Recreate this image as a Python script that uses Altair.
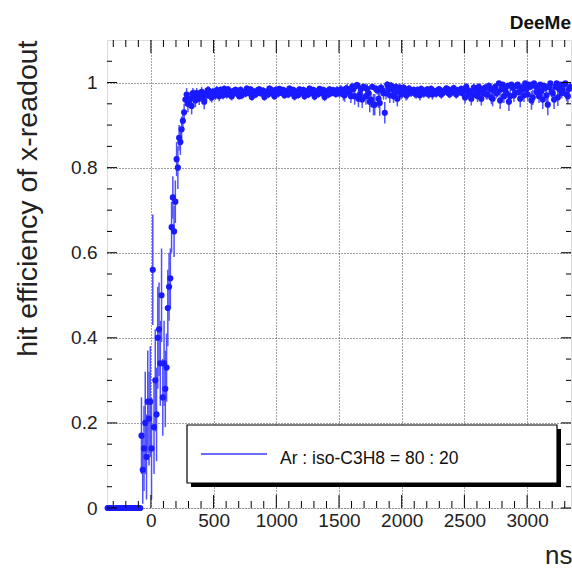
import altair as alt
import pandas as pd

# ---------------- data ----------------
# region before the signal: efficiency 0, bins of 10 ns
zero_ns = [-345, -335, -325, -315, -305, -295, -285, -275, -265, -255, -245, -235,
           -225, -215, -205, -195, -185, -175, -165, -155, -145, -135, -125, -115,
           -105, -95, -85]
zero_eff = [0.0] * len(zero_ns)
zero_err = [0.0] * len(zero_ns)

# rising edge, bins of 10 ns
rise_ns = [-75, -65, -55, -45, -35, -25, -15, -5, 5, 15, 25, 35, 45, 55, 65, 75, 85, 95,
           105, 115, 125, 135, 145, 155, 165, 175, 185, 195, 205, 215, 225, 235, 245,
           255, 265, 275]
rise_eff = [0.17, 0.09, 0.14, 0.20, 0.12, 0.25, 0.21, 0.25, 0.14, 0.56, 0.19, 0.30,
            0.22, 0.40, 0.42, 0.34, 0.50, 0.26, 0.34, 0.28, 0.33, 0.47, 0.52, 0.54,
            0.66, 0.73, 0.65, 0.72, 0.82, 0.80, 0.87, 0.86, 0.89, 0.91, 0.93, 0.96]
rise_err = [0.09, 0.08, 0.10, 0.12, 0.10, 0.12, 0.11, 0.13, 0.12, 0.13, 0.11, 0.12,
            0.11, 0.12, 0.11, 0.10, 0.11, 0.09, 0.10, 0.09, 0.08, 0.09, 0.08, 0.07,
            0.06, 0.05, 0.06, 0.05, 0.04, 0.05, 0.03, 0.03, 0.03, 0.02, 0.02, 0.015]

# plateau, bins of 10 ns: set A at 285, 305, ...; set B at 295, 315, ...
plateau_a_start = 285
plateau_b_start = 295
plateau_step = 20
plateau_a_eff = [
    0.972, 0.958, 0.945, 0.968, 0.975, 0.962, 0.978, 0.955, 0.970, 0.980,
    0.965, 0.975, 0.982, 0.968, 0.976, 0.985, 0.972, 0.978, 0.968, 0.975,
    0.980, 0.968, 0.970, 0.978, 0.986, 0.975, 0.966, 0.979, 0.976, 0.984,
    0.976, 0.966, 0.978, 0.986, 0.975, 0.968, 0.979, 0.985, 0.976, 0.970,
    0.978, 0.986, 0.975, 0.967, 0.977, 0.984, 0.976, 0.968, 0.979, 0.986,
    0.976, 0.967, 0.978, 0.985, 0.975, 0.966, 0.977, 0.984, 0.976, 0.978,
    0.982, 0.975, 0.978, 0.970, 0.985, 0.976, 0.990, 0.968, 0.994, 0.972,
    0.960, 0.988, 0.985, 0.955, 0.990, 0.948, 0.982, 0.952, 0.982, 0.929,
    0.995, 0.970, 0.985, 0.975, 0.962, 0.988, 0.976, 0.980, 0.972, 0.984,
    0.978, 0.975, 0.983, 0.970, 0.980, 0.976, 0.984, 0.978, 0.972, 0.980,
    0.977, 0.983, 0.975, 0.979, 0.985, 0.973, 0.980, 0.976, 0.982, 0.978,
    0.975, 0.965, 0.982, 0.978, 0.970, 0.985, 0.968, 0.980, 0.975, 0.988,
    0.972, 0.985, 0.962, 0.990, 0.978, 0.958, 0.995, 0.982, 0.992, 0.968,
    0.988, 0.975, 0.995, 0.962, 0.985, 0.998, 0.972, 0.990, 0.965, 0.992,
    0.985, 0.995, 0.960, 0.988, 0.948, 0.998, 0.975, 0.990, 0.965, 0.995,
    0.982, 0.998, 0.968, 0.990,
]
plateau_a_err = [
    0.015, 0.018, 0.020, 0.015, 0.012, 0.015, 0.012, 0.018, 0.012, 0.010,
    0.012, 0.010, 0.010, 0.012, 0.010, 0.008, 0.010, 0.008, 0.010, 0.008,
    0.008, 0.008, 0.009, 0.008, 0.007, 0.008, 0.009, 0.008, 0.008, 0.007,
    0.008, 0.009, 0.008, 0.007, 0.008, 0.009, 0.008, 0.007, 0.008, 0.008,
    0.008, 0.007, 0.008, 0.009, 0.008, 0.007, 0.008, 0.009, 0.008, 0.007,
    0.008, 0.009, 0.008, 0.007, 0.008, 0.010, 0.008, 0.007, 0.008, 0.008,
    0.010, 0.010, 0.012, 0.015, 0.012, 0.012, 0.010, 0.020, 0.008, 0.015,
    0.020, 0.008, 0.012, 0.025, 0.006, 0.025, 0.010, 0.030, 0.012, 0.025,
    0.008, 0.018, 0.012, 0.012, 0.018, 0.010, 0.010, 0.010, 0.012, 0.010,
    0.008, 0.010, 0.008, 0.012, 0.008, 0.010, 0.008, 0.009, 0.012, 0.008,
    0.009, 0.008, 0.010, 0.008, 0.008, 0.010, 0.008, 0.009, 0.008, 0.009,
    0.010, 0.014, 0.008, 0.009, 0.012, 0.008, 0.014, 0.009, 0.010, 0.008,
    0.012, 0.010, 0.018, 0.008, 0.012, 0.020, 0.006, 0.010, 0.008, 0.018,
    0.010, 0.012, 0.006, 0.020, 0.010, 0.005, 0.015, 0.008, 0.018, 0.008,
    0.010, 0.006, 0.022, 0.010, 0.025, 0.005, 0.014, 0.008, 0.020, 0.006,
    0.012, 0.005, 0.018, 0.010,
]
plateau_b_eff = [
    0.950, 0.962, 0.975, 0.958, 0.968, 0.972, 0.965, 0.975, 0.982, 0.968,
    0.978, 0.970, 0.976, 0.983, 0.970, 0.978, 0.984, 0.970, 0.980, 0.983,
    0.972, 0.983, 0.977, 0.974, 0.979, 0.984, 0.976, 0.972, 0.983, 0.975,
    0.981, 0.977, 0.972, 0.984, 0.978, 0.983, 0.974, 0.977, 0.983, 0.979,
    0.972, 0.977, 0.983, 0.979, 0.971, 0.976, 0.983, 0.978, 0.972, 0.977,
    0.983, 0.979, 0.973, 0.977, 0.983, 0.979, 0.972, 0.975, 0.982, 0.973,
    0.977, 0.984, 0.972, 0.986, 0.980, 0.968, 0.985, 0.992, 0.962, 0.985,
    0.990, 0.968, 0.975, 0.960, 0.948, 0.985, 0.962, 0.988, 0.975, 0.975,
    0.985, 0.993, 0.968, 0.990, 0.982, 0.972, 0.988, 0.970, 0.985, 0.976,
    0.983, 0.972, 0.978, 0.985, 0.974, 0.982, 0.972, 0.985, 0.979, 0.974,
    0.984, 0.972, 0.980, 0.986, 0.974, 0.982, 0.987, 0.972, 0.979, 0.985,
    0.982, 0.990, 0.972, 0.962, 0.988, 0.976, 0.990, 0.962, 0.985, 0.972,
    0.992, 0.965, 0.982, 0.975, 0.998, 0.985, 0.968, 0.975, 0.955, 0.995,
    0.970, 0.992, 0.978, 0.988, 0.970, 0.985, 0.995, 0.958, 0.998, 0.978,
    0.968, 0.980, 0.992, 0.970, 0.990, 0.978, 0.960, 0.998, 0.985, 0.975,
    0.995, 0.972, 0.985,
]
plateau_b_err = [
    0.020, 0.016, 0.012, 0.016, 0.014, 0.012, 0.014, 0.012, 0.010, 0.012,
    0.010, 0.011, 0.009, 0.008, 0.010, 0.009, 0.008, 0.010, 0.008, 0.008,
    0.009, 0.008, 0.008, 0.009, 0.008, 0.007, 0.008, 0.009, 0.007, 0.008,
    0.008, 0.008, 0.009, 0.007, 0.008, 0.008, 0.009, 0.008, 0.007, 0.008,
    0.009, 0.008, 0.007, 0.008, 0.009, 0.008, 0.007, 0.008, 0.009, 0.008,
    0.007, 0.008, 0.009, 0.008, 0.007, 0.008, 0.009, 0.008, 0.008, 0.009,
    0.010, 0.010, 0.014, 0.008, 0.012, 0.016, 0.010, 0.008, 0.020, 0.010,
    0.008, 0.020, 0.014, 0.018, 0.025, 0.010, 0.022, 0.008, 0.015, 0.015,
    0.010, 0.008, 0.016, 0.008, 0.010, 0.012, 0.009, 0.012, 0.009, 0.010,
    0.008, 0.010, 0.009, 0.008, 0.010, 0.008, 0.010, 0.008, 0.009, 0.010,
    0.008, 0.010, 0.009, 0.008, 0.010, 0.008, 0.008, 0.010, 0.009, 0.008,
    0.009, 0.008, 0.012, 0.016, 0.009, 0.011, 0.008, 0.016, 0.009, 0.012,
    0.008, 0.016, 0.010, 0.012, 0.005, 0.010, 0.016, 0.012, 0.022, 0.006,
    0.016, 0.008, 0.012, 0.009, 0.016, 0.010, 0.006, 0.022, 0.005, 0.012,
    0.016, 0.010, 0.008, 0.016, 0.008, 0.012, 0.022, 0.005, 0.010, 0.012,
    0.006, 0.016, 0.010,
]
plateau_a_ns = [plateau_a_start + plateau_step * i for i in range(len(plateau_a_eff))]
plateau_b_ns = [plateau_b_start + plateau_step * i for i in range(len(plateau_b_eff))]

# axis ticks
x_major = [0, 500, 1000, 1500, 2000, 2500, 3000]
x_minor = [-300, -200, -100, 100, 200, 300, 400, 600, 700, 800, 900, 1100, 1200, 1300,
           1400, 1600, 1700, 1800, 1900, 2100, 2200, 2300, 2400, 2600, 2700, 2800, 2900,
           3100, 3200, 3300]
y_major = [0, 0.2, 0.4, 0.6, 0.8, 1.0]
y_minor = [0.05, 0.1, 0.15, 0.25, 0.3, 0.35, 0.45, 0.5, 0.55, 0.65, 0.7, 0.75, 0.85,
           0.9, 0.95, 1.05]

legend_label = "Ar : iso-C3H8 = 80 : 20"

# ---------------- chart ----------------
W, H = 464, 468
FONT = "Liberation Sans"
PT = "#1a1aff"
EB = "#5050ff"

df = pd.DataFrame({
    "ns": zero_ns + rise_ns + plateau_a_ns + plateau_b_ns,
    "eff": zero_eff + rise_eff + plateau_a_eff + plateau_b_eff,
    "err": zero_err + rise_err + plateau_a_err + plateau_b_err,
})
df["lo"] = df["eff"] - df["err"]
df["hi"] = df["eff"] + df["err"]
df_err = df[df["err"] > 0]

xs = alt.Scale(domain=[-350, 3350], nice=False, zero=False)
ys = alt.Scale(domain=[0, 1.1], nice=False, zero=False)

x_axis = alt.Axis(values=x_major, format="d", grid=True, gridDash=[1, 2],
                  gridColor="#444", gridWidth=1, tickSize=0, domain=False,
                  labelFont=FONT, labelFontSize=19, labelColor="#222", labelPadding=3,
                  title="ns", titleFont=FONT, titleFontSize=26,
                  titleFontWeight="normal", titleColor="#222", titleX=W + 1, titleY=47,
                  titleAlign="right", titleBaseline="middle")
y_axis = alt.Axis(values=y_major, format="~g", grid=True, gridDash=[1, 2],
                  gridColor="#444", gridWidth=1, tickSize=0, domain=False,
                  labelFont=FONT, labelFontSize=19, labelColor="#222",
                  labelPadding=10, title="hit efficiency of x-readout",
                  titleFont=FONT, titleFontSize=28.5, titleFontWeight="normal",
                  titleColor="#222", titleAngle=270, titleX=-80, titleY=0,
                  titleAlign="right", titleBaseline="middle")


def X(field):
    return alt.X(field, scale=xs, axis=x_axis)


def Y(field):
    return alt.Y(field, scale=ys, axis=y_axis)


errbars = alt.Chart(df_err).mark_rule(color=EB, strokeWidth=1.5).encode(
    x=X("ns:Q"), y=Y("lo:Q"), y2="hi:Q",
)
points = alt.Chart(df).mark_circle(size=38, color=PT, opacity=1).encode(
    x=X("ns:Q"), y=Y("eff:Q"),
)


def xticks(vals, y0, y1):
    return alt.Chart(pd.DataFrame({"ns": vals})).mark_rule(color="black", strokeWidth=1).encode(
        x=X("ns:Q"), y=alt.value(y0), y2=alt.value(y1))


def yticks(vals, x0, x1):
    return alt.Chart(pd.DataFrame({"eff": vals})).mark_rule(color="black", strokeWidth=1).encode(
        y=Y("eff:Q"), x=alt.value(x0), x2=alt.value(x1))


ticks = [
    xticks(x_major, H, H - 13), xticks(x_minor, H, H - 7),
    xticks(x_major, 0, 13), xticks(x_minor, 0, 7),
    yticks(y_major, 0, 10), yticks(y_minor, 0, 5),
    yticks(y_major, W, W - 10), yticks(y_minor, W, W - 5),
]

one = pd.DataFrame({"k": [0]})
shadow = alt.Chart(one).mark_rect(color="black").encode(
    x=alt.value(84), x2=alt.value(454), y=alt.value(389), y2=alt.value(447))
box = alt.Chart(one).mark_rect(fill="white", stroke="black", strokeWidth=1.2).encode(
    x=alt.value(80), x2=alt.value(450), y=alt.value(385), y2=alt.value(443))
sample = alt.Chart(one).mark_rule(color="#3a3aff", strokeWidth=1.5).encode(
    x=alt.value(94), x2=alt.value(160), y=alt.value(414))
label = alt.Chart(one).mark_text(align="left", baseline="middle", font=FONT,
                                 fontSize=17.5, color="#111").encode(
    x=alt.value(173), y=alt.value(419), text=alt.value(legend_label))

chart = alt.layer(errbars, points, *ticks, shadow, box, sample, label).properties(
    width=W, height=H,
    padding={"left": 107, "top": 40, "right": 1, "bottom": 64},
    autosize=alt.AutoSizeParams(type="none"),
    title=alt.TitleParams("DeeMe", anchor="end", frame="group", fontSize=19,
                          fontWeight="bold", font=FONT, color="#111", offset=7),
).configure_view(stroke="black", strokeWidth=1.5).configure(background="white")

chart.save("out.html", embed_options={"renderer": "svg", "actions": False})
